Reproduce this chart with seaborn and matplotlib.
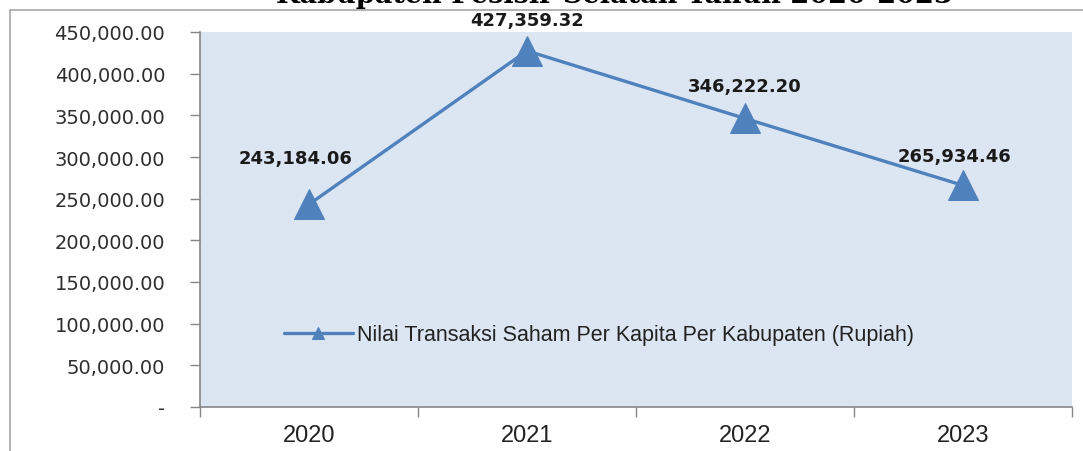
import matplotlib
matplotlib.use("Agg")
import matplotlib.pyplot as plt
from matplotlib.lines import Line2D
from matplotlib.ticker import FuncFormatter, FixedLocator
import seaborn as sns
import pandas as pd

years = ["2020", "2021", "2022", "2023"]
values = [243184.06, 427359.32, 346222.20, 265934.46]
series_name = "Nilai Transaksi Saham Per Kapita Per Kabupaten (Rupiah)"
title = "Kabupaten Pesisir Selatan Tahun 2020-2023"

sns.set_theme(style="white")
plt.rcParams["font.family"] = ["DejaVu Sans"]

df = pd.DataFrame({"pos": range(len(years)), "year": years, "value": values})

W, H = 1083, 452
fig = plt.figure(figsize=(W / 100, H / 100), dpi=100)
ax = fig.add_axes([200 / W, (H - 408) / H, (1072 - 200) / W, (408 - 33) / H])
ax.set_facecolor("#DCE6F2")

line_color = "#4F81BD"
sns.lineplot(data=df, x="pos", y="value", ax=ax, color=line_color, linewidth=2.4,
             marker="^", markersize=21, markeredgecolor=line_color,
             markerfacecolor=line_color, label=series_name)

ax.set_xlim(-0.5, len(years) - 0.5)
ax.set_ylim(0, 450000)
ax.set_xlabel("")
ax.set_ylabel("")

# y axis: thousands with two decimals, zero as a dash
ax.yaxis.set_major_locator(FixedLocator(range(0, 450001, 50000)))
ax.yaxis.set_major_formatter(FuncFormatter(lambda v, _: "-" if v == 0 else f"{v:,.2f}"))
ax.tick_params(axis="y", which="major", length=7, width=1, color="#868686",
               labelsize=14, labelcolor="#2e2e2e", pad=18, left=True)

# x axis: labels at category centres, tick marks at category boundaries
ax.set_xticks(range(len(years)))
ax.set_xticklabels(years, fontfamily="Liberation Sans", fontsize=17, color="#222222")
ax.set_xticks([i - 0.5 for i in range(len(years) + 1)], minor=True)
ax.tick_params(axis="x", which="major", length=0, pad=12, bottom=True)
ax.tick_params(axis="x", which="minor", length=7, width=1, color="#868686", bottom=True)

for side in ("top", "right"):
    ax.spines[side].set_visible(False)
for side in ("left", "bottom"):
    ax.spines[side].set_color("#868686")
    ax.spines[side].set_linewidth(1.2)

# value labels above each point
offsets = [(-10, 27), (0, 16), (0, 17), (-6, 15)]
for i, (v, off) in enumerate(zip(values, offsets)):
    ax.annotate(f"{v:,.2f}", (i, v), xytext=off, textcoords="offset points",
                ha="center", va="bottom", fontsize=13, fontweight="bold",
                color="#1a1a1a", annotation_clip=False)

leg = ax.legend(loc="center left", bbox_to_anchor=(0.074, 0.192), frameon=False,
                prop={"family": "Liberation Sans", "size": 15.5}, markerscale=0.4,
                handlelength=3.2, handletextpad=0.2)
for t in leg.get_texts():
    t.set_color("#222222")

# chart frame
fig.add_artist(Line2D([10 / W, 10 / W], [0, 1 - 11 / H], transform=fig.transFigure,
                      color="#A6A6A6", linewidth=1.2))
fig.add_artist(Line2D([10 / W, 1], [1 - 11 / H, 1 - 11 / H], transform=fig.transFigure,
                      color="#A6A6A6", linewidth=1.2))

fig.text(0.567, 1 - 3 / H, title, ha="center", va="baseline", fontfamily="DejaVu Serif",
         fontweight="bold", fontsize=19.5, color="#000000")

fig.savefig("out.png", dpi=100)
